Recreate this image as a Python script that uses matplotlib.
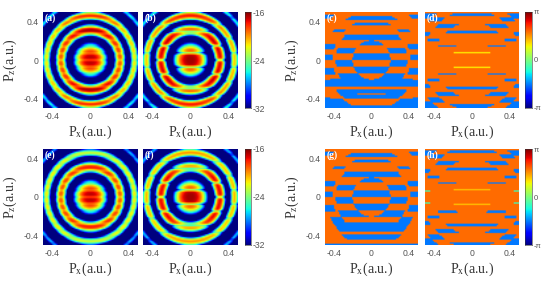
import numpy as np
import matplotlib
matplotlib.use("Agg")
import matplotlib.pyplot as plt

W, H = 550, 287

# magnitude panels: ring radius, half width, and peak level at side / diagonal / top
ring_radius = [0.316, 0.47, 0.63]
ring_width = [0.052, 0.042, 0.03]
center_peak = {"a": -16.8, "b": -16.5, "e": -16.8, "f": -16.5}
center_width = 0.16
ring_levels = {
    "a": [[-19.0, -18.0, -16.5], [-21.5, -20.5, -18.0], [-27.0, -26.0, -25.0]],
    "b": [[-17.5, -17.0, -18.5], [-21.0, -20.0, -17.8], [-27.0, -26.0, -25.0]],
    "e": [[-19.0, -18.5, -17.8], [-21.5, -21.5, -22.5], [-27.0, -27.0, -27.0]],
    "f": [[-17.5, -17.5, -19.5], [-20.5, -21.0, -20.0], [-27.0, -27.0, -27.0]],
}
rows_fine = [-0.49, -0.42, -0.35, -0.28, -0.21, -0.14, -0.07, 0.0, 0.07, 0.14, 0.21, 0.28, 0.35, 0.42, 0.49]
rows_odd = [-0.375, -0.225, -0.075, 0.075, 0.225, 0.375]
rows_even = [-0.45, -0.30, -0.15, 0.0, 0.15, 0.30, 0.45]
node_rows = {"a": [rows_fine] * 4, "e": [rows_fine] * 4,
             "b": [rows_odd, rows_even, rows_odd, rows_even],
             "f": [rows_odd, rows_even, rows_odd, rows_even]}
# dip at the node rows for center, ring 1, ring 2, ring 3
node_depth = {"a": [1.6, 1.6, 1.2, 1.0], "e": [1.6, 1.6, 1.2, 1.0],
              "b": [5.5, 5.0, 3.0, 2.0], "f": [5.5, 5.0, 3.0, 2.0]}

# phase panels: blue bars as z_low, z_high, r_in, r_out
bars_c = [
    (0.15, 0.21, 0, 0.207), (0.0, 0.07, 0, 0.207), (-0.14, -0.07, 0, 0.207),
    (0.21, 0.27, 0.207, 0.39), (0.07, 0.13, 0.207, 0.39), (-0.07, 0.0, 0.207, 0.39),
    (-0.21, -0.14, 0.207, 0.39), (-0.28, -0.20, 0.207, 0.5),
    (-0.355, -0.316, 0.0, 0.5), (-0.41, -0.37, 0.0, 0.5), (-0.37, -0.355, 0.39, 0.5),
    (0.37, 0.40, 0.3, 0.43), (0.42, 0.46, 0.39, 0.51), (0.29, 0.33, 0.42, 0.52),
    (0.11, 0.175, 0.42, 0.6), (0.0, 0.05, 0.42, 0.6), (-0.16, -0.08, 0.42, 0.6),
    (-0.28, -0.21, 0.42, 0.6), (-0.5, -0.48, 0.0, 0.75), (-0.48, -0.41, 0.52, 0.75),
    (0.44, 0.48, 0.62, 0.72), (-0.44, -0.39, 0.6, 0.72),
]
bars_d = [
    (0.14, 0.16, 0.22, 0.40), (-0.16, -0.14, 0.22, 0.40),
    (0.28, 0.31, 0, 0.40), (-0.31, -0.28, 0, 0.40),
    (0.47, 0.5, 0, 0.53), (-0.5, -0.47, 0, 0.53),
    (0.34, 0.38, 0.40, 0.52), (-0.38, -0.34, 0.40, 0.52),
    (0.41, 0.45, 0.53, 0.62), (-0.45, -0.40, 0.53, 0.62),
    (0.2, 0.22, 0.41, 0.52), (-0.22, -0.2, 0.41, 0.52),
    (0.26, 0.29, 0.53, 0.62), (-0.29, -0.26, 0.53, 0.62),
    (0.44, 0.5, 0.62, 0.72), (-0.5, -0.44, 0.62, 0.72),
]
bars_g = [
    (0.15, 0.21, 0, 0.207), (0.0, 0.07, 0, 0.207), (-0.14, -0.07, 0, 0.207),
    (0.21, 0.27, 0.207, 0.39), (0.07, 0.13, 0.207, 0.39), (-0.07, 0.0, 0.207, 0.39),
    (-0.21, -0.14, 0.207, 0.39), (-0.27, -0.21, 0.39, 0.5), (-0.36, -0.27, 0.0, 0.5),
    (-0.45, -0.40, 0.0, 0.52), (0.37, 0.40, 0.3, 0.43), (0.42, 0.46, 0.39, 0.51),
    (0.29, 0.33, 0.42, 0.52), (0.11, 0.175, 0.42, 0.6), (0.0, 0.05, 0.42, 0.6),
    (-0.16, -0.08, 0.42, 0.6), (-0.5, -0.49, 0.0, 0.75), (0.44, 0.48, 0.62, 0.72),
]
bars_h = [
    (0.14, 0.16, 0.22, 0.40), (-0.165, -0.14, 0.22, 0.40),
    (0.28, 0.31, 0, 0.40), (-0.31, -0.28, 0, 0.40),
    (0.465, 0.49, 0, 0.54), (-0.5, -0.48, 0, 0.54),
    (0.34, 0.38, 0.40, 0.52), (-0.38, -0.34, 0.40, 0.52),
    (0.41, 0.45, 0.53, 0.62), (-0.45, -0.40, 0.53, 0.62),
    (0.2, 0.22, 0.41, 0.52), (-0.22, -0.2, 0.41, 0.52),
    (0.26, 0.29, 0.53, 0.62), (-0.29, -0.26, 0.53, 0.62),
    (0.44, 0.5, 0.62, 0.72), (-0.5, -0.44, 0.62, 0.72),
]
phase_bars = {"c": bars_c, "d": bars_d, "g": bars_g, "h": bars_h}
# thin lines seen as green/yellow on the orange: z, r_in, r_out, value
lines_d = [(0.077, 0, 0.215, 1.0), (-0.077, 0, 0.215, 1.0)]
lines_h = [(0.077, 0, 0.215, 1.3), (-0.077, 0, 0.215, 1.3),
           (0.07, 0.46, 0.6, -0.5), (-0.07, 0.46, 0.6, -0.5)]
phase_lines = {"c": [], "d": lines_d, "g": [], "h": lines_h}

# panel pixel boxes: left, right, top, bottom
boxes = {
    "a": (43, 138, 12, 108), "b": (143, 238, 12, 108),
    "c": (325, 418, 12, 108), "d": (425, 519, 12, 108),
    "e": (43, 138, 149, 245), "f": (143, 238, 149, 245),
    "g": (325, 418, 149, 245), "h": (425, 519, 149, 245),
}
cbar_boxes = [(245, 251, 12, 108, -32, 16), (245, 251, 149, 245, -32, 16),
              (525, 532, 12, 108, -np.pi, np.pi), (525, 532, 149, 245, -np.pi, np.pi)]

n = 72
px = np.linspace(-0.5, 0.5, n)
X, Z = np.meshgrid(px, px)
R = np.hypot(X, Z)
S = np.abs(Z) / np.maximum(R, 1e-6)


def row_dip(rows):
    d = np.min(np.abs(Z[..., None] - np.array(rows)), axis=-1)
    return np.exp(-(d / 0.014) ** 2)


def magnitude(name):
    rows = node_rows[name]
    depth = node_depth[name]
    out = center_peak[name] - 9.0 * (R / center_width) ** 3 - depth[0] * row_dip(rows[0])
    for i in range(3):
        top = np.interp(S, [0, 0.7, 1], ring_levels[name][i])
        part = top - 9.0 * ((R - ring_radius[i]) / ring_width[i]) ** 2 - depth[i + 1] * row_dip(rows[i + 1])
        out = np.maximum(out, part)
    return np.clip(out, -32, -16)


def phase(name):
    out = np.full_like(R, 1.85)
    for z0, z1, r0, r1 in phase_bars[name]:
        out[(Z >= z0) & (Z < z1) & (R >= r0) & (R < r1)] = -1.6
    for z, r0, r1, val in phase_lines[name]:
        row = np.argmin(np.abs(px - z))
        hit = (R[row] >= r0) & (R[row] < r1)
        out[row][hit] = val
    return out


def px_axes(fig, box):
    l, r, t, b = box
    return fig.add_axes([l / W, 1 - b / H, (r - l) / W, (b - t) / H])


plt.rcParams["font.family"] = ["Liberation Sans", "DejaVu Sans"]
plt.rcParams["mathtext.fontset"] = "stix"
fig = plt.figure(figsize=(W / 100, H / 100), dpi=100)
gray = "#555555"
ticks = [-0.4, 0, 0.4]
tick_text = ["-0.4", "0", "0.4"]

for name, box in boxes.items():
    ax = px_axes(fig, box)
    if name in "abef":
        im = ax.imshow(magnitude(name), origin="lower", extent=[-0.5, 0.5, -0.5, 0.5],
                       cmap="jet", vmin=-32, vmax=-16, interpolation="bilinear", aspect="auto")
    else:
        im = ax.imshow(phase(name), origin="lower", extent=[-0.5, 0.5, -0.5, 0.5],
                       cmap="jet", vmin=-np.pi, vmax=np.pi, interpolation="bilinear", aspect="auto")
    ax.set_xticks(ticks, tick_text)
    ax.tick_params(length=0, pad=3, labelsize=6.2, labelcolor=gray)
    if name in "aceg":
        ax.set_yticks(ticks, tick_text)
    else:
        ax.set_yticks([])
    for s in ax.spines.values():
        s.set_visible(False)
    ax.text(0.015, 0.94, "(%s)" % name, transform=ax.transAxes, color="white",
            fontsize=7, family="Liberation Serif", va="center", fontweight="bold")
    fig.text((box[0] + box[1]) / 2 / W, 1 - (box[3] + 24) / H, r"P$_{\mathrm{x}}$(a.u.)",
             family="Liberation Serif", fontsize=10, color="#333333", ha="center", va="center")
    if name in "aceg":
        fig.text((box[0] - 33) / W, 1 - (box[2] + box[3]) / 2 / H, r"P$_{\mathrm{z}}$(a.u.)",
                 family="Liberation Serif", fontsize=10, color="#333333", ha="center", va="center",
                 rotation=90)

for l, r, t, b, lo, span in cbar_boxes:
    cax = px_axes(fig, (l, r, t, b))
    hi = -16 if lo == -32 else np.pi
    grad = np.linspace(lo, hi, 256)[:, None]
    cax.imshow(grad, origin="lower", extent=[0, 1, lo, hi], cmap="jet", vmin=lo, vmax=hi, aspect="auto")
    cax.set_xticks([])
    cax.yaxis.tick_right()
    if lo == -32:
        cax.set_yticks([-32, -24, -16], ["-32", "-24", "-16"])
        cax.tick_params(length=0, pad=1.5, labelsize=6.2, labelcolor=gray)
    else:
        cax.set_yticks([-np.pi, 0, np.pi], ["-\u03c0", "0", "\u03c0"])
        cax.tick_params(length=0, pad=1.5, labelsize=5.5, labelcolor=gray)
    for s in cax.spines.values():
        s.set_linewidth(0.4)
        s.set_color("#333333")

fig.savefig("out.png", dpi=100)
